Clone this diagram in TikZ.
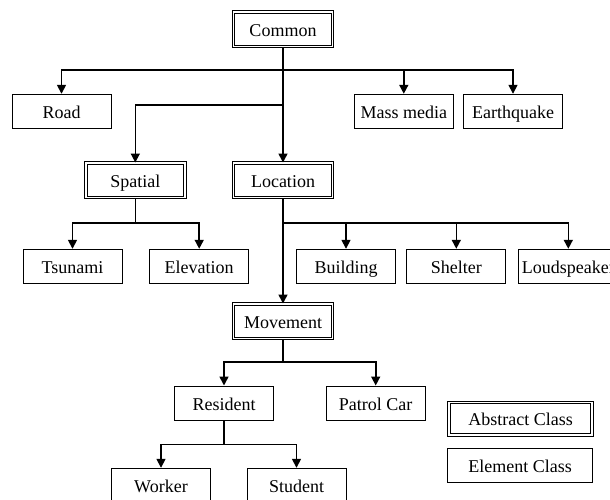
\documentclass[tikz,border=0pt]{standalone}
\usepackage{fontspec}
\setmainfont{Liberation Serif}
\usetikzlibrary{arrows.meta}
\tikzset{
  elembox/.style={draw=black, line width=1pt, minimum width=99pt, minimum height=34pt, inner sep=0pt, text height=16pt, text depth=2pt, font=\fontsize{18}{20}\selectfont},
  absbox/.style={draw=black, line width=1.1pt, double=white, double distance=1.5pt, minimum width=99pt, minimum height=34.5pt, inner sep=0pt, text height=16pt, text depth=2pt, font=\fontsize{18}{20}\selectfont},
  conn/.style={line width=1.6pt, -{Triangle[width=9pt,length=9pt]}},
  link/.style={line width=1.6pt}
}
\begin{document}
\begin{tikzpicture}[x=1pt,y=-1pt]
\clip (0,0) rectangle (610,500);
\fill[white] (0,0) rectangle (610,500);
% nodes
\node[absbox] (common) at (283,29.2) {Common};
\node[elembox] (road) at (61.5,111.3) {Road};
\node[elembox] (mass) at (403.8,111.3) {Mass media};
\node[elembox] (earth) at (513,111.3) {Earthquake};
\node[absbox] (spatial) at (135.3,180.3) {Spatial};
\node[absbox] (location) at (283,180.3) {Location};
\node[elembox] (tsunami) at (72.5,266.3) {Tsunami};
\node[elembox] (elev) at (199.2,266.3) {Elevation};
\node[elembox] (building) at (346,266.3) {Building};
\node[elembox] (shelter) at (456.3,266.3) {Shelter};
\node[elembox] (loud) at (568.3,266.3) {Loudspeaker};
\node[absbox] (movement) at (283,321.3) {Movement};
\node[elembox] (resident) at (224,403) {Resident};
\node[elembox] (patrol) at (375.7,403) {Patrol Car};
\node[elembox] (worker) at (161,485.3) {Worker};
\node[elembox] (student) at (296.5,485.3) {Student};
\node[absbox, minimum width=143pt, minimum height=32.5pt] (abs) at (520.7,418.7) {Abstract Class};
\node[elembox, minimum width=144.4pt, minimum height=33.4pt] (elem) at (520,465.5) {Element Class};
% junctions
\coordinate (j1) at (283,70);
\coordinate (j2) at (283,105);
\coordinate (j3) at (283,222.7);
\coordinate (j4) at (135.3,222.7);
\coordinate (j5) at (283,361.7);
\coordinate (j6) at (224,444.3);
% connectors
\draw[conn] (common.south) -- (location.north);
\draw[conn] (j1) -| (road.north);
\draw[conn] (j1) -| (mass.north);
\draw[conn] (j1) -| (earth.north);
\draw[conn] (j2) -| (spatial.north);
\draw[link] (spatial.south) -- (j4);
\draw[conn] (j4) -| (tsunami.north);
\draw[conn] (j4) -| (elev.north);
\draw[conn] (location.south) -- (movement.north);
\draw[conn] (j3) -| (building.north);
\draw[conn] (j3) -| (shelter.north);
\draw[conn] (j3) -| (loud.north);
\draw[link] (movement.south) -- (j5);
\draw[conn] (j5) -| (resident.north);
\draw[conn] (j5) -| (patrol.north);
\draw[link] (resident.south) -- (j6);
\draw[conn] (j6) -| (worker.north);
\draw[conn] (j6) -| (student.north);
\end{tikzpicture}
\end{document}
